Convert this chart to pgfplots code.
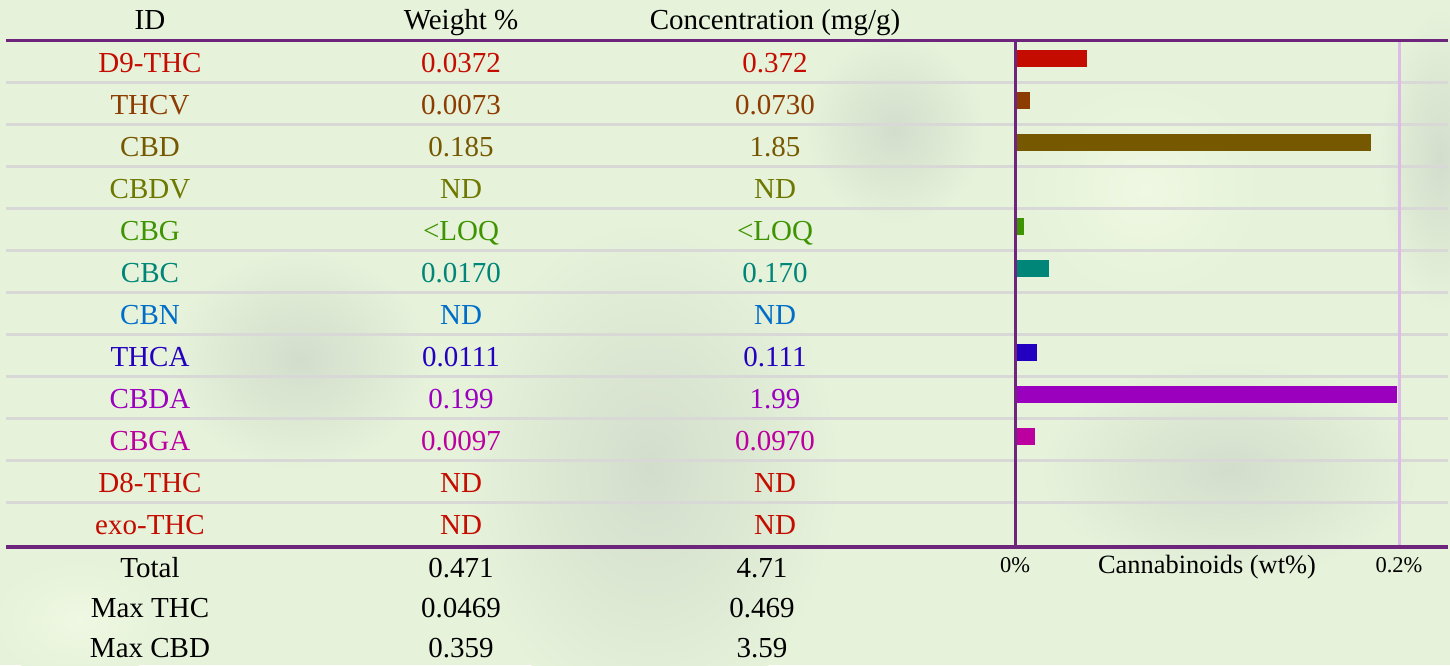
\documentclass[border=0pt]{standalone}
\usepackage{fontspec}
\setmainfont{Liberation Serif}
\usepackage{pgfplots}
\pgfplotsset{compat=1.18}

\definecolor{bg}{RGB}{230,242,218}
\definecolor{bgdark}{RGB}{211,221,204}
\definecolor{bglight}{RGB}{239,248,226}
\definecolor{pline}{RGB}{110,38,125}
\definecolor{lline}{RGB}{222,186,232}
\definecolor{sep}{RGB}{216,216,214}
\definecolor{cD9}{RGB}{196,12,0}
\definecolor{cTHCV}{RGB}{140,60,0}
\definecolor{cCBD}{RGB}{118,88,0}
\definecolor{cCBDV}{RGB}{110,120,0}
\definecolor{cCBG}{RGB}{62,148,0}
\definecolor{cCBC}{RGB}{0,134,120}
\definecolor{cCBN}{RGB}{0,110,200}
\definecolor{cTHCA}{RGB}{35,0,192}
\definecolor{cCBDA}{RGB}{155,0,190}
\definecolor{cCBGA}{RGB}{188,0,160}

\begin{document}
\begin{tikzpicture}
% background, pixel units (y down)
\begin{scope}[x=1pt,y=-1pt,shift={(0pt,665pt)}]
  \fill[bg] (0,0) rectangle (1450,665);
  \shade[inner color=bgdark, outer color=bg] (650,470) ellipse (190 and 250);
  \shade[inner color=bgdark, outer color=bg] (300,360) ellipse (130 and 110);
  \shade[inner color=bgdark, outer color=bg] (1230,470) ellipse (190 and 110);
  \shade[inner color=bgdark, outer color=bg] (895,130) ellipse (90 and 95);
  \shade[inner color=bgdark, outer color=bg] (1440,160) ellipse (60 and 150);
  \shade[inner color=bglight, outer color=bg] (1145,190) ellipse (120 and 110);
  \shade[inner color=bglight, outer color=bg] (80,620) ellipse (90 and 60);
\end{scope}

\begin{axis}[
  name=ax,
  at={(0pt,0pt)}, anchor=south west,
  width=1450pt, height=665pt, scale only axis,
  hide axis,
  xmin=-0.53055, xmax=0.22663,
  ymin=-0.392857, ymax=15.440476,
  y dir=reverse,
  xbar, bar shift=0pt, bar width=17pt,
]
  \addplot[fill=cD9, draw=none] coordinates {(0.0372,1)};
  \addplot[fill=cTHCV, draw=none] coordinates {(0.0073,2)};
  \addplot[fill=cCBD, draw=none] coordinates {(0.1855,3)};
  \addplot[fill=cCBG, draw=none] coordinates {(0.0042,5)};
  \addplot[fill=cCBC, draw=none] coordinates {(0.0170,6)};
  \addplot[fill=cTHCA, draw=none] coordinates {(0.0111,8)};
  \addplot[fill=cCBDA, draw=none] coordinates {(0.199,9)};
  \addplot[fill=cCBGA, draw=none] coordinates {(0.0097,10)};
\end{axis}

% table, pixel units (y down)
\begin{scope}[x=1pt,y=-1pt,shift={(0pt,665pt)},
  every node/.style={font=\fontsize{29}{34}\selectfont, inner sep=0pt, anchor=base}]
  \foreach \k in {1,...,11}
    \draw[sep, line width=3pt] (6,{82.5+42*(\k-1)}) -- (1448,{82.5+42*(\k-1)});
  \draw[lline, line width=3pt] (1399,42) -- (1399,545);
  \draw[pline, line width=3.5pt] (1015.5,41) -- (1015.5,547);
  \draw[pline, line width=3pt] (6,41) -- (1448,41);
  \draw[pline, line width=3.5pt] (6,547) -- (1448,547);

  \node at (150,30) {ID};
  \node at (461,30) {Weight \%};
  \node at (775,30) {Concentration (mg/g)};

  \foreach \n/\w/\c/\col [count=\i] in {
      D9-THC/0.0372/0.372/cD9,
      THCV/0.0073/0.0730/cTHCV,
      CBD/0.185/1.85/cCBD,
      CBDV/ND/ND/cCBDV,
      CBG/<LOQ/<LOQ/cCBG,
      CBC/0.0170/0.170/cCBC,
      CBN/ND/ND/cCBN,
      THCA/0.0111/0.111/cTHCA,
      CBDA/0.199/1.99/cCBDA,
      CBGA/0.0097/0.0970/cCBGA,
      D8-THC/ND/ND/cD9,
      exo-THC/ND/ND/cD9} {
    \node[text=\col] at (150,{72.5+42*(\i-1)}) {\n};
    \node[text=\col] at (461,{72.5+42*(\i-1)}) {\w};
    \node[text=\col] at (775,{72.5+42*(\i-1)}) {\c};
  }

  \node at (150,577) {Total};
  \node at (461,577) {0.471};
  \node at (762,577) {4.71};
  \node at (150,617) {Max THC};
  \node at (461,617) {0.0469};
  \node at (762,617) {0.469};
  \node at (150,657) {Max CBD};
  \node at (461,657) {0.359};
  \node at (762,657) {3.59};

  \node[font=\fontsize{22.5}{27}\selectfont] at (1015,572) {0\%};
  \node[font=\fontsize{22.5}{27}\selectfont] at (1399,572) {0.2\%};
  \node[font=\fontsize{26.4}{31}\selectfont] at (1207,573) {Cannabinoids (wt\%)};
\end{scope}
\pgfresetboundingbox
\useasboundingbox (0pt,0pt) rectangle (1450pt,665pt);
\end{tikzpicture}
\end{document}
